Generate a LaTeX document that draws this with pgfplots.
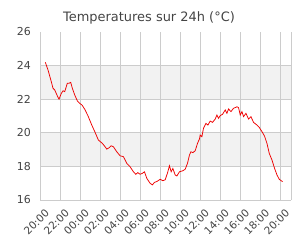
\documentclass[border=0pt]{standalone}
\usepackage{fontspec}
\setmainfont{DejaVu Sans}
\usepackage{pgfplots}
\pgfplotsset{compat=1.18}
\definecolor{gridc}{HTML}{CCCCCC}
\definecolor{bandc}{HTML}{F2F2F2}
\definecolor{txt}{HTML}{444444}
\definecolor{linec}{HTML}{EE0000}
\pgfplotstableread{
t v
0.53 24.2
0.8 23.74
1.13 23.04
1.3 22.65
1.47 22.55
1.73 22.2
1.9 22.0
2.13 22.35
2.3 22.5
2.47 22.45
2.73 22.95
2.9 22.95
3.07 23.0
3.23 22.65
3.47 22.25
3.73 21.9
3.97 21.75
4.2 21.65
4.47 21.4
4.8 21.0
5.17 20.46
5.5 20.03
5.83 19.57
6.23 19.37
6.5 19.17
6.67 19.03
6.9 19.11
7.1 19.23
7.33 19.17
7.67 18.87
8.0 18.63
8.33 18.58
8.67 18.18
9.0 17.98
9.33 17.68
9.57 17.53
9.77 17.63
10.0 17.53
10.23 17.59
10.43 17.68
10.67 17.29
11.0 16.99
11.23 16.9
11.43 17.05
11.67 17.1
12.0 17.23
12.27 17.15
12.5 17.2
12.73 17.6
12.93 18.04
13.1 17.68
13.27 17.88
13.5 17.49
13.67 17.43
13.93 17.68
14.27 17.74
14.5 17.83
14.73 18.18
14.93 18.68
15.07 18.87
15.27 18.82
15.5 18.93
15.73 19.37
15.93 19.64
16.0 19.87
16.17 19.77
16.33 20.27
16.57 20.56
16.77 20.46
17.0 20.7
17.23 20.62
17.5 20.82
17.67 21.06
17.83 20.86
18.0 21.02
18.23 21.1
18.5 21.36
18.67 21.16
18.83 21.42
19.07 21.26
19.33 21.46
19.5 21.5
19.67 21.55
19.83 21.5
20.0 21.06
20.17 21.26
20.33 20.96
20.57 21.16
20.83 20.82
21.07 20.96
21.33 20.62
21.67 20.46
21.9 20.32
22.17 20.07
22.43 19.8
22.67 19.37
22.9 18.77
23.17 18.38
23.43 17.88
23.67 17.49
23.9 17.23
24.23 17.09
}\temps
\begin{document}
\begin{tikzpicture}
\fill[bandc] (40bp,83.6bp) rectangle (291bp,117.2bp);
\fill[bandc] (40bp,150.8bp) rectangle (291bp,184.4bp);
\begin{axis}[
  at={(40bp,50bp)}, anchor=south west, scale only axis,
  width=251bp, height=168bp,
  xmin=0, xmax=25.07, ymin=16, ymax=26,
  axis lines*=left,
  axis line style={gridc, line width=1bp, -},
  xtick={0,2,...,24},
  xticklabels={20:00,22:00,00:00,02:00,04:00,06:00,08:00,10:00,12:00,14:00,16:00,18:00,20:00},
  ytick={16,18,...,26},
  xmajorgrids,
  extra x ticks={25.07}, extra x tick labels={},
  extra x tick style={grid=major},
  extra y ticks={18,20,22,24}, extra y tick labels={},
  extra y tick style={grid=major},
  major grid style={gridc, line width=1bp},
  tick style={draw=none},
  /pgf/number format/assume math mode=true,
  x tick label style={rotate=45, anchor=north east, inner sep=0pt, xshift=-3bp, yshift=-9bp, font=\fontsize{10.5}{12}\selectfont, text=txt},
  y tick label style={inner sep=0pt, xshift=-9bp, font=\fontsize{11}{13}\selectfont, text=txt},
]
\addplot[linec, line width=0.75bp, no marks] table[x=t, y=v] {\temps};
\end{axis}
\node[font=\fontsize{13}{15}\selectfont, text=txt] at (149bp,232bp) {Temperatures sur 24h (°C)};
\pgfresetboundingbox
\path[use as bounding box] (0,0) rectangle (300bp,250bp);
\end{tikzpicture}
\end{document}
